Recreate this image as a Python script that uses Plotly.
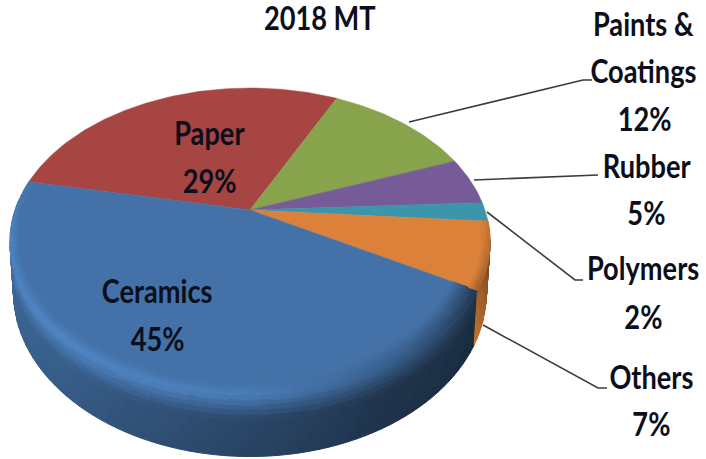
import numpy as np
import plotly.graph_objects as go

title = "2018 MT"
# going clockwise from the Ceramics / Paper boundary
order_names = ["Paper", "Paints & Coatings", "Rubber", "Polymers", "Others", "Ceramics"]
order_values = [29, 12, 5, 2, 7, 45]
order_colors = ["#A64542", "#87A44C", "#775A98", "#3B95AB", "#DC8139", "#4472A8"]

# projection of the tilted pie (pixels)
CX, CY, A, B, K, H = 250, 210, 235, 147, 0.205, 49
START = 168.5


def project(phi, r=1.0, h=0.0):
    t = np.radians(phi)
    u, v = r * np.cos(t), r * np.sin(t)
    w = 1 + K * v
    return CX + A * u / w * (1 - 0.015 * h), CY - B * v / w + H * h / w


def rgb(base, f):
    c = np.array([int(base[i:i + 2], 16) for i in (1, 3, 5)], float) * f
    c = np.clip(np.round(c / 2) * 2, 0, 255).astype(int)
    return "rgb(%d,%d,%d)" % tuple(c)


def mix(f1, f2, s):
    return f1 + (f2 - f1) * s


limits = START - np.cumsum([0] + order_values) * 3.6
spans = dict(zip(order_names, zip(limits[:-1], limits[1:])))

fig = go.Figure()
bucket = {}


def quad(p1, r1, h1, p2, r2, h2, color):
    xa, ya = project(p1, r1, h1)
    xb, yb = project(p2, r1, h1)
    xc, yc = project(p2, r2, h2)
    xd, yd = project(p1, r2, h2)
    bx, by = bucket.setdefault(color, ([], []))
    bx.extend([xa, xb, xc, xd, xa, None])
    by.extend([ya, yb, yc, yd, ya, None])


def flush():
    for color, (bx, by) in bucket.items():
        fig.add_trace(go.Scatter(x=bx, y=by, mode="lines", fill="toself", fillcolor=color,
                                 line=dict(color=color, width=1), hoverinfo="skip", showlegend=False))
    bucket.clear()


blue = order_colors[-1]
orange = order_colors[-2]
knots = [168, 192, 230, 270, 300, 331]
wall_f = [0.95, 0.95, 0.85, 0.64, 0.47, 0.40]
ridge_f = [1.10, 1.15, 1.18, 1.1, 0.8, 0.45]
rim_r = [0.975, 0.965, 0.955, 0.95, 0.92, 0.90]

cer_a = START
cer_b = START + order_values[-1] * 3.6
oth_b = cer_b + order_values[-2] * 3.6
STEP = 2.0
TANG_L = 180 + np.degrees(np.arcsin(K))
TANG_R = 360 - np.degrees(np.arcsin(K))
hs = np.linspace(0, 1, 13)

# side wall, behind the top face
for p in np.arange(TANG_L, cer_b, STEP):
    q = min(p + STEP, cer_b)
    m = (p + q) / 2
    wf = np.interp(m, knots, wall_f)
    for h1, h2 in zip(hs[:-1], hs[1:]):
        s = (h1 + h2) / 2
        quad(p, 1, h1, q, 1, h2, rgb(blue, mix(np.interp(m, knots, ridge_f), wf, min(1, s * 2.5)) * (1 - 0.08 * s)))
for p in np.arange(cer_b, TANG_R + 1, STEP):
    q = min(p + STEP, TANG_R + 1)
    m = (p + q) / 2
    f = np.interp(m, [cer_b, TANG_R], [0.85, 0.62])
    for h1, h2 in zip(hs[:-1], hs[1:]):
        s = (h1 + h2) / 2
        quad(p, 1, h1, q, 1, h2, rgb(orange, f * (0.85 + 0.2 * s)))
flush()

# top face
for name, color in zip(order_names, order_colors):
    a, b = spans[name]
    ph = np.linspace(a, b, max(8, int(abs(a - b))))
    x, y = project(ph)
    xc, yc = project(0.0, 0.0)
    fig.add_trace(go.Scatter(x=np.r_[xc, x, xc], y=np.r_[yc, y, yc], mode="lines", fill="toself",
                             fillcolor=color, line=dict(color=color, width=0.5),
                             hoverinfo="skip", showlegend=False, name=name))

# rounded rim
for p in np.arange(cer_a, cer_b, STEP):
    q = min(p + STEP, cer_b)
    m = (p + q) / 2
    rf = np.interp(m, knots, ridge_f)
    fade = np.interp(m, [cer_a, cer_a + 20], [0.5, 1.0])
    r0 = np.interp(m, knots, rim_r)
    rr = np.linspace(r0, 1, 9)
    for i, (r1, r2) in enumerate(zip(rr[:-1], rr[1:])):
        s = (i + 0.5) / 8
        quad(p, r1, 0, q, r2, 0, rgb(blue, mix(1.0, rf, s * fade)))
for p in np.arange(cer_b, oth_b, STEP):
    q = min(p + STEP, oth_b)
    m = (p + q) / 2
    rr = np.linspace(0.965, 1, 5)
    for i, (r1, r2) in enumerate(zip(rr[:-1], rr[1:])):
        s = (i + 0.5) / 4
        quad(p, r1, 0, q, r2, 0, rgb(orange, mix(1.0, np.interp(m, [cer_b, oth_b], [0.72, 0.9]), s)))
flush()

text_color = "#0B0F1C"
texts = [
    (title, 319, 17), ("Paper", 209, 132), ("29%", 209, 180), ("Ceramics", 157, 290), ("45%", 157, 338),
    ("Paints &", 643, 23), ("Coatings", 643, 70), ("12%", 644, 118), ("Rubber", 646, 165), ("5%", 646, 212),
    ("Polymers", 643, 267), ("2%", 643, 316), ("Others", 651, 376), ("7%", 651, 423),
]
annotations = [dict(text=t, x=x, y=y, xref="x", yref="y", showarrow=False, xanchor="center", yanchor="middle",
                    font=dict(family="Lato", size=32, color=text_color, weight=700))
               for t, x, y in texts]

leaders = [
    ([409, 583, 592], [122, 80, 80]),
    ([474, 598], [180, 175]),
    ([487, 575, 583], [212, 280, 280]),
    ([483, 598, 607], [325, 388, 388]),
]
for lx, ly in leaders:
    fig.add_trace(go.Scatter(x=lx, y=ly, mode="lines", line=dict(color="#3C3C3C", width=1.6),
                             hoverinfo="skip", showlegend=False))

fig.update_layout(
    width=706, height=459, margin=dict(l=0, r=0, t=0, b=0), autosize=False,
    paper_bgcolor="white", plot_bgcolor="white", annotations=annotations,
    xaxis=dict(range=[0, 706], visible=False, fixedrange=True),
    yaxis=dict(range=[459, 0], visible=False, fixedrange=True),
)
# Calibri-like proportions: squeeze the text horizontally about its own centre
squeeze = """
document.body.style.margin='0';
var gd = document.getElementById('{plot_id}');
gd.querySelectorAll('.annotation-text').forEach(function (t) {
  var b = t.getBBox(), c = b.x + b.width / 2;
  t.setAttribute('transform', 'translate(' + c + ',0) scale(0.85,1) translate(' + (-c) + ',0)');
});
"""
fig.write_html("out.html", config={"displayModeBar": False}, post_script=squeeze)
